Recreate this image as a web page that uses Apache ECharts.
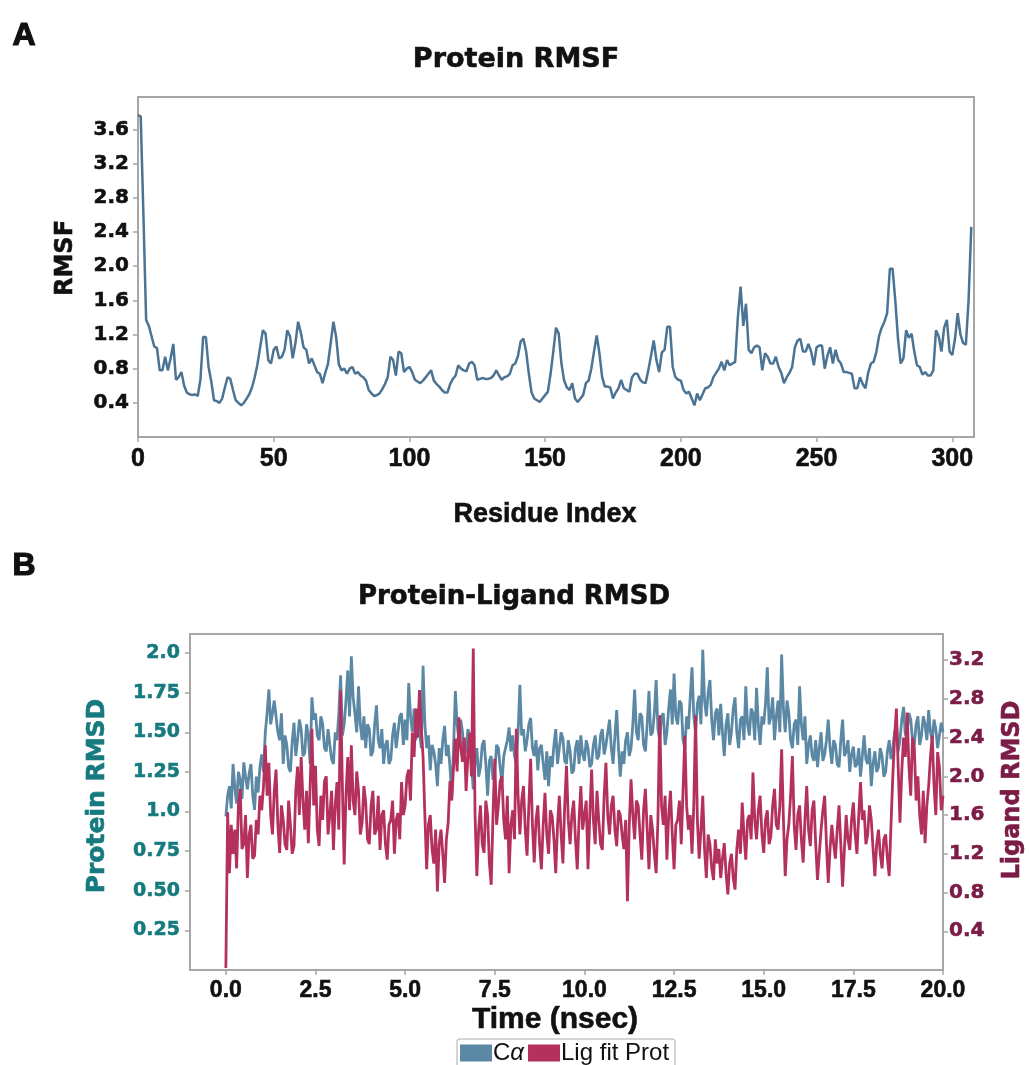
<!DOCTYPE html>
<html><head><meta charset="utf-8">
<script src="https://cdn.jsdelivr.net/npm/echarts@6/dist/echarts.min.js"></script>
<style>html,body{margin:0;padding:0;background:#fff}#c{width:1029px;height:1065px}</style>
</head><body><div id="c"></div>
<script>
// ---- Panel A: Protein RMSF (residue index = array position) ----
const rmsfValues = [
3.77,3.75,2.60,1.37,1.30,1.18,1.06,1.04,0.78,0.78,
0.94,0.78,0.92,1.09,0.67,0.70,0.76,0.60,0.52,0.50,
0.49,0.50,0.48,0.67,1.17,1.17,0.82,0.65,0.43,0.42,
0.40,0.45,0.58,0.70,0.68,0.55,0.43,0.40,0.37,0.40,
0.45,0.50,0.58,0.70,0.85,1.05,1.25,1.21,0.90,0.86,
1.02,1.06,0.92,0.94,1.02,1.25,1.18,0.92,1.10,1.35,
1.22,1.05,1.02,0.86,0.92,0.84,0.76,0.74,0.63,0.75,
0.86,1.10,1.35,1.17,0.85,0.78,0.80,0.74,0.80,0.82,
0.74,0.76,0.72,0.70,0.66,0.55,0.51,0.48,0.49,0.51,
0.56,0.62,0.70,0.94,0.90,0.72,1.00,0.98,0.76,0.80,
0.82,0.76,0.67,0.65,0.63,0.66,0.70,0.74,0.78,0.66,
0.62,0.59,0.55,0.52,0.52,0.62,0.68,0.72,0.84,0.80,
0.78,0.77,0.86,0.88,0.84,0.67,0.68,0.69,0.68,0.68,
0.69,0.72,0.78,0.72,0.67,0.70,0.71,0.74,0.84,0.86,
0.95,1.12,1.15,1.00,0.74,0.52,0.45,0.43,0.41,0.45,
0.49,0.53,0.74,1.00,1.28,1.21,0.86,0.66,0.58,0.55,
0.63,0.45,0.41,0.45,0.49,0.63,0.66,0.80,1.00,1.19,
0.98,0.70,0.59,0.59,0.58,0.45,0.52,0.57,0.67,0.57,
0.55,0.53,0.70,0.74,0.74,0.67,0.64,0.63,0.78,0.95,
1.13,0.90,0.76,0.99,1.02,1.29,1.29,0.82,0.70,0.67,
0.66,0.55,0.51,0.53,0.45,0.37,0.51,0.43,0.50,0.57,
0.58,0.61,0.70,0.75,0.80,0.88,0.78,0.90,0.84,0.86,
0.88,1.40,1.76,1.30,1.56,1.02,0.98,1.05,1.07,1.05,
0.78,0.98,0.94,0.86,0.86,0.94,0.82,0.75,0.63,0.70,
0.75,0.82,1.05,1.13,1.15,1.00,1.00,1.09,1.00,0.84,
1.05,1.07,1.07,0.80,0.95,1.05,0.86,1.02,0.90,0.86,
0.76,0.76,0.75,0.74,0.57,0.57,0.70,0.62,0.57,0.75,
0.86,0.88,0.99,1.18,1.28,1.35,1.45,1.97,1.97,1.60,
1.15,0.86,0.92,1.25,1.16,1.21,1.00,0.84,0.82,0.73,
0.76,0.72,0.72,0.78,1.25,1.18,1.00,1.28,1.37,1.00,
0.96,1.15,1.45,1.20,1.10,1.08,1.60,2.46
];
const rmsfXTicks = [0,50,100,150,200,250,300];
const rmsfYTicks = [0.4,0.8,1.2,1.6,2.0,2.4,2.8,3.2,3.6];
const rmsfYLabels = ['0.4','0.8','1.2','1.6','2.0','2.4','2.8','3.2','3.6'];

// ---- Panel B: Protein-Ligand RMSD, one frame every 0.05 ns (20 frames per row = 1 ns) ----
const frameStepNs = 0.05;
const caRmsd = [
0.97,1.10,1.16,1.02,1.30,1.15,1.05,1.25,1.20,1.08,1.31,1.22,1.14,1.24,1.30,1.10,1.01,1.22,1.12,1.28,
1.36,1.25,1.50,1.62,1.77,1.55,1.62,1.70,1.71,1.50,1.45,1.62,1.30,1.48,1.42,1.28,1.25,1.44,1.56,1.35,
1.45,1.58,1.52,1.35,1.37,1.55,1.48,1.30,1.72,1.58,1.62,1.48,1.45,1.60,1.55,1.40,1.38,1.52,1.42,1.33,
1.30,1.50,1.45,1.62,1.86,1.48,1.55,1.70,1.89,1.60,1.98,1.72,1.62,1.50,1.79,1.55,1.45,1.60,1.40,1.55,
1.52,1.35,1.38,1.55,1.67,1.45,1.40,1.52,1.30,1.42,1.45,1.30,1.33,1.48,1.56,1.40,1.50,1.60,1.62,1.42,
1.58,1.45,1.81,1.60,1.50,1.65,1.45,1.58,1.52,1.40,1.92,1.55,1.40,1.48,1.26,1.42,1.38,1.30,1.16,1.40,
1.30,1.45,1.54,1.35,1.42,1.28,1.10,1.40,1.76,1.55,1.45,1.58,1.50,1.36,1.38,1.52,1.48,1.30,1.14,1.32,
1.40,1.22,1.28,1.42,1.45,1.30,1.10,1.32,1.35,1.20,1.25,1.42,1.40,1.28,1.18,1.35,1.36,1.45,1.53,1.38,
1.48,1.35,1.30,1.50,1.80,1.48,1.52,1.38,1.45,1.55,1.59,1.40,1.35,1.45,1.26,1.40,1.42,1.30,1.20,1.38,
1.16,1.35,1.28,1.42,1.52,1.30,1.40,1.50,1.46,1.32,1.30,1.45,1.38,1.24,1.26,1.40,1.45,1.30,1.48,1.36,
1.32,1.45,1.40,1.28,1.30,1.42,1.48,1.33,1.35,1.48,1.52,1.36,1.42,1.50,1.58,1.40,1.30,1.48,1.64,1.40,
1.22,1.38,1.30,1.45,1.50,1.35,1.40,1.55,1.77,1.50,1.45,1.62,1.60,1.42,1.38,1.55,1.76,1.48,1.50,1.62,
1.83,1.52,1.45,1.60,1.62,1.42,1.50,1.65,1.77,1.55,1.87,1.60,1.55,1.70,1.68,1.45,1.40,1.60,1.52,1.72,
1.91,1.60,1.50,1.68,1.73,1.55,2.02,1.70,1.60,1.75,1.83,1.58,1.45,1.62,1.65,1.48,1.68,1.50,1.35,1.55,
1.62,1.42,1.50,1.65,1.72,1.50,1.40,1.58,1.60,1.45,1.79,1.55,1.48,1.65,1.62,1.45,1.78,1.55,1.42,1.60,
1.55,1.68,1.91,1.55,1.60,1.72,1.45,1.60,1.70,1.50,1.99,1.65,1.50,1.70,1.62,1.45,1.40,1.55,1.58,1.42,
1.79,1.55,1.45,1.60,1.30,1.42,1.48,1.35,1.32,1.45,1.28,1.40,1.50,1.32,1.36,1.45,1.58,1.40,1.30,1.45,
1.42,1.30,1.28,1.45,1.58,1.35,1.38,1.45,1.25,1.36,1.41,1.28,1.30,1.40,1.22,1.35,1.48,1.33,1.30,1.40,
1.16,1.30,1.38,1.25,1.28,1.40,1.35,1.22,1.25,1.38,1.45,1.33,1.40,1.50,1.55,1.38,1.45,1.58,1.66,1.48,
1.50,1.62,1.58,1.45,1.42,1.55,1.60,1.42,1.48,1.60,1.55,1.45,1.64,1.50,1.45,1.58,1.52,1.40,1.48,1.56,
1.50
];
const ligRmsd = [
0.02,1.63,1.00,1.50,1.20,1.45,1.05,1.70,1.87,1.25,1.30,1.60,0.95,1.40,1.50,1.15,1.18,1.55,1.40,1.80,
1.65,1.90,2.32,1.80,2.14,1.60,1.40,1.85,2.07,1.50,1.21,1.70,1.55,1.30,1.24,1.75,1.50,1.20,1.28,1.85,
2.10,1.60,2.20,1.75,1.45,1.85,1.31,1.90,2.49,1.70,2.11,1.45,1.28,1.80,1.55,1.95,2.00,1.40,1.60,1.85,
1.24,1.70,1.94,1.45,2.89,1.90,1.09,1.80,2.20,1.65,2.32,1.75,1.60,2.05,1.85,1.40,1.52,1.90,1.73,1.35,
1.30,1.70,1.85,1.40,1.45,1.80,1.24,1.60,1.65,1.30,1.14,1.50,1.55,1.75,1.20,1.55,1.62,1.35,1.94,1.60,
1.70,2.00,2.07,1.75,2.45,2.20,2.70,2.40,2.89,2.50,2.20,1.60,1.04,1.50,1.60,1.25,1.10,1.45,0.81,1.30,
1.45,1.20,0.90,1.35,1.52,1.95,1.75,2.10,2.39,2.05,2.61,2.30,2.15,2.40,1.85,2.20,2.45,2.00,3.32,1.60,
0.97,1.45,1.70,1.30,1.21,1.75,1.60,1.10,0.88,1.60,2.18,1.50,1.70,1.95,2.00,1.55,1.35,1.80,1.00,1.50,
1.65,1.35,2.49,1.80,1.40,1.75,1.90,1.45,1.18,1.70,2.18,1.50,1.11,1.55,1.70,1.30,1.04,1.50,1.83,1.40,
1.20,1.65,1.59,1.35,1.00,1.50,1.80,1.40,1.10,1.70,2.11,1.55,1.30,1.60,1.75,1.35,1.04,1.55,1.90,1.45,
1.45,1.75,1.04,1.60,2.07,1.55,1.30,1.85,1.55,1.30,1.24,1.80,2.14,1.60,1.40,1.70,1.80,1.45,1.28,1.65,
1.60,1.40,1.25,1.55,0.71,1.50,1.97,1.60,1.35,1.75,1.70,1.40,1.14,1.65,1.87,1.45,1.04,1.60,1.45,1.20,
1.00,1.55,2.63,1.70,1.50,1.80,1.14,1.60,1.85,1.40,1.04,1.50,1.55,1.75,1.30,1.85,2.42,1.70,1.45,1.60,
1.20,1.70,2.63,1.55,1.15,1.45,1.80,1.25,0.95,1.40,1.30,1.05,0.93,1.35,1.10,1.25,0.95,1.15,1.31,1.00,
0.78,1.10,1.20,0.95,0.83,1.25,1.45,1.20,1.73,1.40,1.14,1.55,1.60,1.35,2.04,1.55,1.35,1.65,1.80,1.40,
1.21,1.55,1.65,1.30,1.38,1.70,1.87,1.50,1.45,1.70,2.28,1.55,0.97,1.35,1.50,1.80,2.21,1.50,1.24,1.60,
1.70,1.35,1.11,1.55,1.90,1.45,1.28,1.65,1.75,1.30,0.93,1.20,1.45,1.65,1.80,1.30,0.90,1.25,1.50,1.30,
1.15,1.45,1.70,1.30,0.86,1.25,1.60,1.35,1.24,1.55,1.73,1.40,1.20,1.60,1.94,1.55,1.65,1.30,1.40,1.70,
1.55,1.25,0.97,1.30,1.45,1.20,1.05,1.35,1.40,1.15,0.97,1.50,2.00,2.40,2.70,2.10,1.52,2.05,2.40,2.20,
2.66,2.10,1.80,2.40,2.30,1.75,2.00,1.60,1.40,1.85,1.31,1.70,1.90,2.20,2.42,1.90,1.60,2.25,2.10,1.65,
1.80
];
const timeTicks = [0,2.5,5,7.5,10,12.5,15,17.5,20];
const timeLabels = ['0.0','2.5','5.0','7.5','10.0','12.5','15.0','17.5','20.0'];
const protTicks = [0.25,0.5,0.75,1.0,1.25,1.5,1.75,2.0];
const protLabels = ['0.25','0.50','0.75','1.0','1.25','1.50','1.75','2.0'];
const ligTicks = [0.4,0.8,1.2,1.6,2.0,2.4,2.8,3.2];
const ligLabels = ['0.4','0.8','1.2','1.6','2.0','2.4','2.8','3.2'];

const rmsfData = rmsfValues.map((v, i) => [i, v]);
const caData = caRmsd.map((v, i) => [+(i * frameStepNs).toFixed(3), v]);
const ligData = ligRmsd.map((v, i) => [+(i * frameStepNs).toFixed(3), v]);

const lbl = (vals, labs) => (v) => { const k = vals.findIndex(x => Math.abs(x - v) < 1e-6); return k < 0 ? '' : labs[k]; };

const BOLD = "'Liberation Sans', Arial, sans-serif";
const WIDE = "'DejaVu Sans', sans-serif";
const FRAME = '#a6a6a6';
const TEAL = '#167a7f';
const MAROON = '#7a1c45';
const INK = '#111111';

const tick = (vals) => ({ show: true, length: 5, customValues: vals, lineStyle: { color: FRAME, width: 1.5 } });
const axisLine = { show: true, onZero: false, lineStyle: { color: FRAME, width: 2 } };
const heavy = (color, w) => ({ textBorderColor: color, textBorderWidth: w });

const chart = echarts.init(document.getElementById('c'), null, { renderer: 'canvas' });
chart.setOption({
  backgroundColor: '#ffffff',
  animation: false,
  grid: [
    { left: 138, top: 97, width: 836, height: 340, show: true, borderColor: FRAME, borderWidth: 2, backgroundColor: 'transparent' },
    { left: 190, top: 634, width: 753, height: 336, show: true, borderColor: FRAME, borderWidth: 2, backgroundColor: 'transparent' }
  ],
  xAxis: [
    { type: 'value', gridIndex: 0, min: 0, max: 308, axisLine, splitLine: { show: false }, axisTick: tick(rmsfXTicks),
      axisLabel: Object.assign({ customValues: rmsfXTicks, margin: 10, color: INK, fontFamily: BOLD, fontWeight: 'bold', fontSize: 25 }, heavy(INK, 0.6)) },
    { type: 'value', gridIndex: 1, min: -1, max: 20, axisLine, splitLine: { show: false }, axisTick: tick(timeTicks),
      axisLabel: Object.assign({ customValues: timeTicks, formatter: lbl(timeTicks, timeLabels), margin: 9, color: INK, fontFamily: BOLD, fontWeight: 'bold', fontSize: 23 }, heavy(INK, 0.6)) }
  ],
  yAxis: [
    { type: 'value', gridIndex: 0, min: 0, max: 3.98, axisLine, splitLine: { show: false }, axisTick: tick(rmsfYTicks),
      axisLabel: Object.assign({ customValues: rmsfYTicks, formatter: lbl(rmsfYTicks, rmsfYLabels), margin: 9, color: INK, fontFamily: WIDE, fontWeight: 'bold', fontSize: 20 }, heavy(INK, 0.6)) },
    { type: 'value', gridIndex: 1, min: 0, max: 2.12, position: 'left', axisLine, splitLine: { show: false }, axisTick: tick(protTicks),
      axisLabel: Object.assign({ customValues: protTicks, formatter: lbl(protTicks, protLabels), margin: 10, color: TEAL, fontFamily: WIDE, fontWeight: 'bold', fontSize: 19 }, heavy(TEAL, 0.6)) },
    { type: 'value', gridIndex: 1, min: 0, max: 3.47, position: 'right', axisLine, splitLine: { show: false }, axisTick: tick(ligTicks),
      axisLabel: Object.assign({ customValues: ligTicks, formatter: lbl(ligTicks, ligLabels), margin: 6, color: MAROON, fontFamily: WIDE, fontWeight: 'bold', fontSize: 20 }, heavy(MAROON, 0.6)) }
  ],
  legend: {
    left: 457, top: 1039, orient: 'horizontal',
    data: ['Cα', 'Lig fit Prot'],
    icon: 'rect', itemWidth: 32, itemHeight: 17, itemGap: 4,
    borderColor: '#c8c8c8', borderWidth: 1.5, borderRadius: 3, padding: [2, 6, 2, 3],
    formatter: (n) => n === 'Cα' ? '{c|C}{a|α}' : '{c|' + n + '}',
    textStyle: {
      color: INK, padding: [0, 0, 0, -4],
      rich: {
        c: { fontFamily: BOLD, fontSize: 24, color: INK },
        a: { fontFamily: BOLD, fontSize: 24, fontStyle: 'italic', color: INK }
      }
    }
  },
  series: [
    { name: 'RMSF', type: 'line', xAxisIndex: 0, yAxisIndex: 0, data: rmsfData, showSymbol: false, lineStyle: { color: '#4a7394', width: 2.5 }, itemStyle: { color: '#4a7394' } },
    { name: 'Cα', type: 'line', xAxisIndex: 1, yAxisIndex: 1, data: caData, showSymbol: false, lineStyle: { color: '#5b88a5', width: 2.8 }, itemStyle: { color: '#5b88a5' } },
    { name: 'Lig fit Prot', type: 'line', xAxisIndex: 1, yAxisIndex: 2, data: ligData, showSymbol: false, lineStyle: { color: '#b3315c', width: 2.8 }, itemStyle: { color: '#b3315c' } }
  ],
  graphic: [
    { type: 'text', left: 12, top: 20, style: { text: 'A', font: "bold 32px " + BOLD, fill: INK, stroke: INK, lineWidth: 1.2 } },
    { type: 'text', left: 12, top: 550, style: { text: 'B', font: "bold 32px " + BOLD, fill: INK, stroke: INK, lineWidth: 1.2 } },
    { type: 'text', x: 516, y: 60, style: { text: 'Protein RMSF', font: "bold 27px " + WIDE, fill: INK, stroke: INK, lineWidth: 0.6, align: 'center', verticalAlign: 'middle' } },
    { type: 'text', x: 514, y: 597, style: { text: 'Protein-Ligand RMSD', font: "bold 26px " + WIDE, fill: INK, stroke: INK, lineWidth: 0.6, align: 'center', verticalAlign: 'middle' } },
    { type: 'text', x: 66, y: 258, rotation: Math.PI / 2, style: { text: 'RMSF', font: "bold 24px " + WIDE, fill: INK, stroke: INK, lineWidth: 0.6, align: 'center', verticalAlign: 'middle' } },
    { type: 'text', x: 545, y: 515, style: { text: 'Residue Index', font: "bold 27px " + BOLD, fill: INK, stroke: INK, lineWidth: 0.6, align: 'center', verticalAlign: 'middle' } },
    { type: 'text', x: 97, y: 796, rotation: Math.PI / 2, style: { text: 'Protein RMSD', font: "bold 25px " + WIDE, fill: TEAL, stroke: TEAL, lineWidth: 0.6, align: 'center', verticalAlign: 'middle' } },
    { type: 'text', x: 1013, y: 790, rotation: Math.PI / 2, style: { text: 'Ligand RMSD', font: "bold 24px " + WIDE, fill: MAROON, stroke: MAROON, lineWidth: 0.6, align: 'center', verticalAlign: 'middle' } },
    { type: 'text', x: 555, y: 1020, style: { text: 'Time (nsec)', font: "bold 30px " + BOLD, fill: INK, stroke: INK, lineWidth: 0.6, align: 'center', verticalAlign: 'middle' } }
  ]
});
</script>
</body></html>
